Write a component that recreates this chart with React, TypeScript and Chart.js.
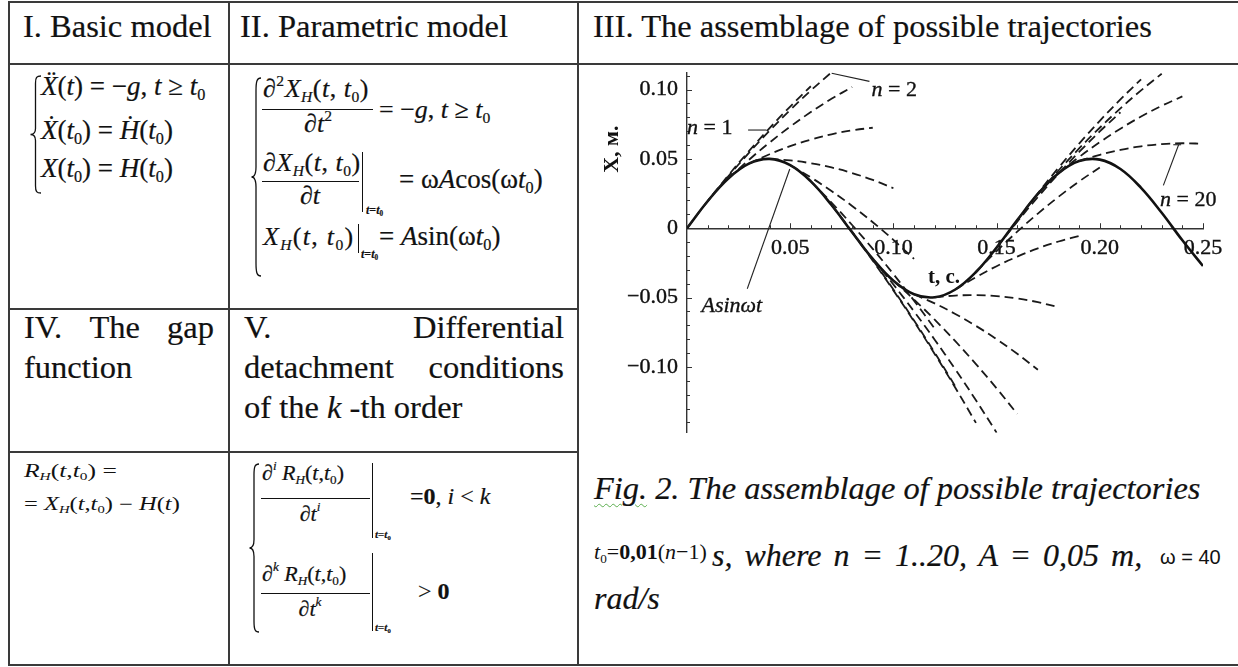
import React, { useEffect, useRef } from 'react';
import { Chart, registerables } from 'chart.js';

Chart.register(...registerables);

const SERIF = '"Liberation Serif", "Times New Roman", serif';
const SANS = '"Liberation Sans", Arial, sans-serif';
const INK = '#111';
const RULE = '#3a3a3a';

// ---------- data ----------
// solid curve A·sin(ωt)
const sinT = [0, 0.01, 0.02, 0.03, 0.04, 0.05, 0.06, 0.07, 0.08, 0.09, 0.1, 0.11, 0.12, 0.13, 0.14, 0.15, 0.16, 0.17, 0.18, 0.19, 0.2, 0.21, 0.22, 0.23, 0.24, 0.25];
const sinX = [0, 0.01947, 0.03587, 0.0466, 0.04998, 0.04546, 0.03377, 0.01675, -0.00292, -0.02213, -0.03784, -0.04758, -0.04981, -0.04417, -0.03156, -0.01397, 0.00583, 0.02471, 0.03968, 0.0484, 0.04947, 0.04273, 0.02912, 0.01114, -0.00872, -0.0272];

// dashed trajectories n = 1..20, each starting at t0 and sampled at t0 + tau
const trajectoryN = [1, 2, 3, 4, 5, 6, 7, 8, 9, 10, 11, 12, 13, 14, 15, 16, 17, 18, 19, 20];
const trajectoryT0 = [0, 0.01, 0.02, 0.03, 0.04, 0.05, 0.06, 0.07, 0.08, 0.09, 0.1, 0.11, 0.12, 0.13, 0.14, 0.15, 0.16, 0.17, 0.18, 0.19];
const trajectoryTau = [0, 0.01, 0.02, 0.03, 0.04, 0.05, 0.06];
const traj01 = [0, 0.01951, 0.03804, 0.05559, 0.07216, 0.08775, 0.10236];
const traj02 = [0.01947, 0.0374, 0.05435, 0.07032, 0.08532, 0.09933, 0.11236];
const traj03 = [0.03587, 0.04931, 0.06178, 0.07326, 0.08377, 0.09329, 0.10184];
const traj04 = [0.0466, 0.05336, 0.05913, 0.06393, 0.06775, 0.07059, 0.07244];
const traj05 = [0.04998, 0.04891, 0.04685, 0.04382, 0.0398, 0.03481, 0.02884];
const traj06 = [0.04546, 0.03665, 0.02685, 0.01608, 0.00433, -0.00841, -0.02212];
const traj07 = [0.03377, 0.01853, 0.00231, -0.01488, -0.03306, -0.05222, -0.07236];
const traj08 = [0.01675, -0.00258, -0.0229, -0.04419, -0.06647, -0.08972, -0.11396];
const traj09 = [-0.00292, -0.02338, -0.04481, -0.06723, -0.09062, -0.115, -0.14036];
const traj10 = [-0.02213, -0.04056, -0.05996, -0.08035, -0.10171, -0.12406, -0.14738];
const traj11 = [-0.03784, -0.0514, -0.06595, -0.08147, -0.09797, -0.11546, -0.13392];
const traj12 = [-0.04758, -0.05422, -0.06183, -0.07043, -0.08001, -0.09056, -0.1021];
const traj13 = [-0.04981, -0.04855, -0.04827, -0.04897, -0.05065, -0.05331, -0.05695];
const traj14 = [-0.04417, -0.03529, -0.02739, -0.02047, -0.01453, -0.00957, -0.00559];
const traj15 = [-0.03156, -0.01654, -0.0025, 0.01056, 0.02265, 0.03375, 0.04387];
const traj16 = [-0.01397, 0.00474, 0.02248, 0.03923, 0.055, 0.0698, 0.08361];
const traj17 = [0.00583, 0.0252, 0.0436, 0.06101, 0.07744, 0.0929, 0.10737];
const traj18 = [0.02471, 0.04161, 0.05753, 0.07246, 0.08642, 0.0994, 0.1114];
const traj19 = [0.03968, 0.05136, 0.06205, 0.07177, 0.08051, 0.08827, 0.09504];
const traj20 = [0.0484, 0.05294, 0.05649, 0.05907, 0.06067, 0.06128, 0.06092];
const trajectories = [traj01, traj02, traj03, traj04, traj05, traj06, traj07, traj08, traj09, traj10, traj11, traj12, traj13, traj14, traj15, traj16, traj17, traj18, traj19, traj20];

const xRange = [0, 0.25];
const yRange = [-0.1475, 0.1125];
const xTicks = [0.05, 0.1, 0.15, 0.2, 0.25];
const xTickLabels = ['0.05', '0.10', '0.15', '0.20', '0.25'];
const yTicks = [-0.1, -0.05, 0, 0.05, 0.1];
const yTickLabels = ['\u22120.10', '\u22120.05', '0', '0.05', '0.10'];

// in-plot annotations (anchored in data coordinates)
const annotations: { parts: [string, boolean][]; x: number; y: number }[] = [
  { parts: [['n', true], [' = 1', false]], x: 0.0, y: 0.0682 },
  { parts: [['n', true], [' = 2', false]], x: 0.0894, y: 0.0956 },
  { parts: [['n', true], [' = 20', false]], x: 0.2292, y: 0.0157 },
  { parts: [['Asin\u03c9t', true]], x: 0.007, y: -0.0604 },
];
const pointers: number[][][] = [
  [[0.0296, 0.0708], [0.0385, 0.0708]],
  [[0.0701, 0.1117], [0.0884, 0.1059]],
  [[0.2308, 0.0309], [0.2382, 0.0602]],
  [[0.2356, 0.0602], [0.2394, 0.0602]],
  [[0.0292, -0.0436], [0.0498, 0.0427]],
];
const xTitle = { text: 't, c.', x: 0.1245, y: -0.0394 };
const yTitle = { text: 'X, \u043c.', y: 0.057 };

const decorPlugin = {
  id: 'decor',
  afterDatasetsDraw(chart: any) {
    const { ctx, chartArea } = chart;
    const xs = chart.scales.x;
    const ys = chart.scales.y;
    const x0 = xs.getPixelForValue(0);
    const y0 = ys.getPixelForValue(0);
    ctx.save();
    // minor / major tick marks on both axes
    ctx.strokeStyle = '#333';
    ctx.lineWidth = 1;
    ctx.beginPath();
    for (let k = 1; k <= 25; k++) {
      const px = Math.round(xs.getPixelForValue(k / 100)) + 0.5;
      const len = k % 5 === 0 ? 5 : 3;
      ctx.moveTo(px, y0);
      ctx.lineTo(px, y0 - len);
    }
    for (let k = -14; k <= 11; k++) {
      if (k === 0) continue;
      const py = Math.round(ys.getPixelForValue(k / 100)) + 0.5;
      const len = k % 5 === 0 ? 5 : 3;
      ctx.moveTo(x0, py);
      ctx.lineTo(x0 + len, py);
    }
    ctx.stroke();
    // pointer lines
    ctx.strokeStyle = '#222';
    ctx.lineWidth = 1.1;
    ctx.setLineDash([]);
    for (const seg of pointers) {
      ctx.beginPath();
      ctx.moveTo(xs.getPixelForValue(seg[0][0]), ys.getPixelForValue(seg[0][1]));
      ctx.lineTo(xs.getPixelForValue(seg[1][0]), ys.getPixelForValue(seg[1][1]));
      ctx.stroke();
    }
    // labels
    ctx.fillStyle = INK;
    ctx.strokeStyle = INK;
    ctx.lineWidth = 0.35;
    ctx.textBaseline = 'alphabetic';
    ctx.textAlign = 'left';
    for (const a of annotations) {
      let cx = xs.getPixelForValue(a.x);
      const cy = ys.getPixelForValue(a.y);
      for (const [txt, it] of a.parts) {
        ctx.font = `${it ? 'italic ' : ''}22px ${SERIF}`;
        ctx.fillText(txt, cx, cy);
        ctx.strokeText(txt, cx, cy);
        cx += ctx.measureText(txt).width;
      }
    }
    // axis titles
    ctx.font = `bold 21px ${SERIF}`;
    ctx.textAlign = 'center';
    ctx.fillText(xTitle.text, xs.getPixelForValue(xTitle.x), ys.getPixelForValue(xTitle.y));
    ctx.translate(chartArea.left - 75, ys.getPixelForValue(yTitle.y));
    ctx.rotate(-Math.PI / 2);
    ctx.textBaseline = 'middle';
    ctx.font = `bold 22px ${SERIF}`;
    ctx.fillText(yTitle.text, 0, 0);
    ctx.restore();
  },
};

function TrajectoryChart() {
  const ref = useRef<HTMLCanvasElement>(null);
  useEffect(() => {
    const canvas = ref.current;
    if (!canvas) return;
    const datasets: any[] = trajectories.map((vals, k) => ({
      label: `n = ${trajectoryN[k]}`,
      data: trajectoryTau.map((d, i) => ({ x: trajectoryT0[k] + d, y: vals[i] })),
      borderColor: '#1a1a1a',
      borderWidth: 1.8,
      borderDash: [9, 5],
      pointRadius: 0,
      tension: 0.4,
      fill: false,
    }));
    datasets.push({
      label: 'Asin\u03c9t',
      data: sinT.map((t, i) => ({ x: t, y: sinX[i] })),
      borderColor: '#111',
      borderWidth: 2.6,
      pointRadius: 0,
      tension: 0.4,
      fill: false,
    });
    const tickFont = { family: SERIF, size: 22 };
    const chart = new Chart(canvas, {
      type: 'line',
      data: { datasets },
      options: {
        animation: false,
        responsive: false,
        events: [],
        layout: { padding: { left: 0, right: 27, top: 19, bottom: 16 } },
        plugins: { legend: { display: false }, tooltip: { enabled: false } },
        scales: {
          x: {
            type: 'linear',
            min: xRange[0],
            max: xRange[1],
            position: { y: 0 } as any,
            grid: { display: false, drawTicks: false },
            border: { display: true, color: '#333', width: 1.4 },
            afterBuildTicks: (s: any) => {
              s.ticks = xTicks.map((v) => ({ value: v }));
            },
            ticks: {
              padding: 7,
              color: INK,
              textStrokeColor: INK,
              textStrokeWidth: 0.4,
              font: tickFont,
              maxRotation: 0,
              autoSkip: false,
              callback: (v: any) => xTickLabels[xTicks.findIndex((t) => Math.abs(t - v) < 1e-9)] ?? '',
            },
          },
          y: {
            type: 'linear',
            min: yRange[0],
            max: yRange[1],
            position: 'left',
            afterFit: (s: any) => {
              s.width = 102;
            },
            grid: { display: false, drawTicks: false },
            border: { display: true, color: '#333', width: 1.4 },
            afterBuildTicks: (s: any) => {
              s.ticks = yTicks.map((v) => ({ value: v }));
            },
            ticks: {
              padding: 9,
              color: INK,
              textStrokeColor: INK,
              textStrokeWidth: 0.4,
              font: tickFont,
              autoSkip: false,
              callback: (v: any) => yTickLabels[yTicks.findIndex((t) => Math.abs(t - v) < 1e-9)] ?? '',
            },
          },
        },
      } as any,
      plugins: [decorPlugin],
    });
    return () => chart.destroy();
  }, []);
  return (
    <canvas
      ref={ref}
      width={645}
      height={405}
      style={{ position: 'absolute', left: 585, top: 50, width: 645, height: 405 }}
    />
  );
}

// ---------- small typesetting helpers ----------
function Txt({ x, y, size, children, style, center }: any) {
  return (
    <div
      style={{
        position: 'absolute',
        left: x,
        top: y - 0.8375 * size,
        fontSize: size,
        lineHeight: `${size}px`,
        whiteSpace: 'pre',
        transform: center ? 'translateX(-50%)' : undefined,
        ...style,
      }}
    >
      {children}
    </div>
  );
}
const It = ({ children }: any) => <span style={{ fontStyle: 'italic' }}>{children}</span>;
const Sub = ({ children }: any) => (
  <span style={{ fontSize: '0.6em', position: 'relative', top: '0.3em', lineHeight: 0 }}>{children}</span>
);
const Sup = ({ children }: any) => (
  <span style={{ fontSize: '0.6em', position: 'relative', top: '-0.75em', lineHeight: 0 }}>{children}</span>
);
function Acc({ children, mark }: any) {
  return (
    <span style={{ position: 'relative', display: 'inline-block' }}>
      {children}
      <span style={{ position: 'absolute', left: '0.22em', top: '-0.2em', fontStyle: 'normal' }}>{mark}</span>
    </span>
  );
}
function HRule({ x, y, w, h = 1.3, color = INK }: any) {
  return <div style={{ position: 'absolute', left: x, top: y, width: w, height: h, background: color }} />;
}
function VRule({ x, y1, y2, w = 1.3, color = INK }: any) {
  return <div style={{ position: 'absolute', left: x, top: y1, width: w, height: y2 - y1, background: color }} />;
}
function Brace({ x, y1, y2, w = 10 }: any) {
  const h = y2 - y1;
  const m = h / 2;
  const c = w * 0.5;
  const d = `M ${w} 1 C ${w * 0.6} 1 ${c} ${h * 0.02} ${c} ${h * 0.07} L ${c} ${m - h * 0.05} C ${c} ${m - h * 0.01} ${w * 0.25} ${m} 0.5 ${m} C ${w * 0.25} ${m} ${c} ${m + h * 0.01} ${c} ${m + h * 0.05} L ${c} ${h - h * 0.07} C ${c} ${h - h * 0.02} ${w * 0.6} ${h - 1} ${w} ${h - 1}`;
  return (
    <svg style={{ position: 'absolute', left: x, top: y1 }} width={w + 1} height={h + 1}>
      <path d={d} fill="none" stroke={INK} strokeWidth={1.3} />
    </svg>
  );
}
function Spread({ x1, x2, y, size, words }: any) {
  return (
    <div
      style={{
        position: 'absolute',
        left: x1,
        width: x2 - x1,
        top: y - 0.8375 * size,
        fontSize: size,
        lineHeight: `${size}px`,
        display: 'flex',
        justifyContent: 'space-between',
        whiteSpace: 'pre',
      }}
    >
      {words.map((w: string, i: number) => (
        <span key={i}>{w}</span>
      ))}
    </div>
  );
}

const WIDE = { letterSpacing: '0.5px' };
const TINY = { fontWeight: 'bold' as const };
const THIN = { WebkitTextStroke: '0px' };

export default function App() {
  return (
    <div
      style={{
        position: 'absolute',
        left: 0,
        top: 0,
        width: 1238,
        height: 667,
        overflow: 'hidden',
        background: '#fff',
        fontFamily: SERIF,
        color: INK,
        WebkitTextStroke: '0.2px #111',
      }}
    >
      {/* table rules */}
      <HRule x={8} y={1} w={1230} h={2} color={RULE} />
      <HRule x={8} y={63} w={1230} h={2} color={RULE} />
      <HRule x={8} y={308} w={571} h={2} color={RULE} />
      <HRule x={8} y={451} w={571} h={2} color={RULE} />
      <HRule x={8} y={664} w={1230} h={2} color={RULE} />
      <VRule x={8} y1={1} y2={666} w={2} color={RULE} />
      <VRule x={228} y1={1} y2={666} w={2} color={RULE} />
      <VRule x={577} y1={1} y2={666} w={2} color={RULE} />

      {/* header row */}
      <Txt x={23} y={37} size={32.5}>I. Basic model</Txt>
      <Txt x={240} y={37} size={32.5}>II. Parametric model</Txt>
      <Txt x={593} y={37} size={32.5}>III. The assemblage of possible trajectories</Txt>

      {/* I. basic model */}
      <Brace x={30} y1={75} y2={194} w={11} />
      <Txt x={41} y={96} size={27}>
        <It><Acc mark={'\u00a8'}>X</Acc></It>(<It>t</It>) = −<It>g</It>, <It>t</It> ≥ <It>t</It><Sub>0</Sub>
      </Txt>
      <Txt x={41} y={140} size={27}>
        <It><Acc mark={'\u02d9'}>X</Acc></It>(<It>t</It><Sub>0</Sub>) = <It><Acc mark={'\u02d9'}>H</Acc></It>(<It>t</It><Sub>0</Sub>)
      </Txt>
      <Txt x={41} y={178} size={27}>
        <It>X</It>(<It>t</It><Sub>0</Sub>) = <It>H</It>(<It>t</It><Sub>0</Sub>)
      </Txt>

      {/* II. parametric model */}
      <Brace x={251} y1={77} y2={277} w={10} />
      <Txt x={263} y={98} size={26} style={WIDE}>
        ∂<Sup>2</Sup><It>X</It><Sub><It>H</It></Sub>(<It>t</It>, <It>t</It><Sub>0</Sub>)
      </Txt>
      <HRule x={262} y={109} w={111} />
      <Txt x={318} y={133} size={26} center>
        ∂<It>t</It><Sup>2</Sup>
      </Txt>
      <Txt x={379} y={119} size={26}>
        = −<It>g</It>, <It>t</It> ≥ <It>t</It><Sub>0</Sub>
      </Txt>

      <Txt x={263} y={172} size={26} style={WIDE}>
        ∂<It>X</It><Sub><It>H</It></Sub>(<It>t</It>, <It>t</It><Sub>0</Sub>)
      </Txt>
      <HRule x={262} y={181} w={97} />
      <Txt x={310} y={205} size={26} center>
        ∂<It>t</It>
      </Txt>
      <VRule x={362} y1={152} y2={212} />
      <Txt x={366} y={214} size={12} style={TINY}>
        <It>t</It>=<It>t</It><Sub>0</Sub>
      </Txt>
      <Txt x={399} y={189} size={27}>
        = ω<It>A</It>cos(ω<It>t</It><Sub>0</Sub>)
      </Txt>

      <Txt x={263} y={246} size={26} style={{ letterSpacing: '1.3px' }}>
        <It>X</It><Sub><It>H</It></Sub>(<It>t</It>, <It>t</It><Sub>0</Sub>)
      </Txt>
      <VRule x={358} y1={224} y2={253} />
      <Txt x={361} y={258} size={12} style={TINY}>
        <It>t</It>=<It>t</It><Sub>0</Sub>
      </Txt>
      <Txt x={379} y={246} size={27}>
        = <It>A</It>sin(ω<It>t</It><Sub>0</Sub>)
      </Txt>

      {/* row 3 headings */}
      <Spread x1={24} x2={214} y={338} size={32.5} words={['IV.', 'The', 'gap']} />
      <Txt x={24} y={378} size={32.5}>function</Txt>
      <Spread x1={244} x2={564} y={338} size={32.5} words={['V.', 'Differential']} />
      <Spread x1={244} x2={564} y={378} size={32.5} words={['detachment', 'conditions']} />
      <Txt x={244} y={418} size={32.5}>
        of the <It>k</It> -th order
      </Txt>

      {/* IV. gap function */}
      <Txt x={24} y={477} size={18} style={{ ...THIN, transform: 'scaleX(1.42)', transformOrigin: '0 0' }}>
        <It>R</It><Sub><It>H</It></Sub>(<It>t</It>,<It>t</It><Sub>0</Sub>) =
      </Txt>
      <Txt x={24} y={510} size={18} style={{ ...THIN, transform: 'scaleX(1.36)', transformOrigin: '0 0' }}>
        = <It>X</It><Sub><It>H</It></Sub>(<It>t</It>,<It>t</It><Sub>0</Sub>) − <It>H</It>(<It>t</It>)
      </Txt>

      {/* V. detachment conditions */}
      <Brace x={249} y1={463} y2={633} w={10} />
      <Txt x={262} y={480} size={22}>
        ∂<Sup><It>i</It></Sup> <It>R</It><Sub><It>H</It></Sub>(<It>t</It>,<It>t</It><Sub>0</Sub>)
      </Txt>
      <HRule x={261} y={498} w={109} />
      <Txt x={310} y={521} size={22} center>
        ∂<It>t</It><Sup><It>i</It></Sup>
      </Txt>
      <VRule x={372} y1={463} y2={538} />
      <Txt x={375} y={538} size={11} style={TINY}>
        <It>t</It>=<It>t</It><Sub>0</Sub>
      </Txt>
      <Txt x={410} y={504} size={24}>
        =<b>0</b>, <It>i</It> &lt; <It>k</It>
      </Txt>
      <Txt x={262} y={581} size={22}>
        ∂<Sup><It>k</It></Sup> <It>R</It><Sub><It>H</It></Sub>(<It>t</It>,<It>t</It><Sub>0</Sub>)
      </Txt>
      <HRule x={261} y={593} w={109} />
      <Txt x={310} y={616} size={22} center>
        ∂<It>t</It><Sup><It>k</It></Sup>
      </Txt>
      <VRule x={372} y1={553} y2={631} />
      <Txt x={375} y={631} size={11} style={TINY}>
        <It>t</It>=<It>t</It><Sub>0</Sub>
      </Txt>
      <Txt x={418} y={599} size={24}>
        &gt; <b>0</b>
      </Txt>

      {/* III. chart */}
      <TrajectoryChart />

      {/* caption */}
      <Txt x={594} y={499} size={32.4} style={{ fontStyle: 'italic' }}>
        <span
          style={{
            textDecorationLine: 'underline',
            textDecorationStyle: 'wavy',
            textDecorationColor: '#5cae4f',
            textDecorationThickness: '1px',
            textUnderlineOffset: '4px',
          }}
        >
          Fig.
        </span>
        <span> 2. The assemblage of possible trajectories</span>
      </Txt>
      <Txt x={594} y={559} size={22} style={THIN}>
        <It>t</It><Sub>0</Sub>=<b>0,01</b>(<It>n</It>−1)
      </Txt>
      <Txt x={712} y={566} size={32} style={{ fontStyle: 'italic', wordSpacing: '4px' }}>
        s, where n = 1..20, A = 0,05 m,
      </Txt>
      <Txt x={1160} y={564} size={20} style={{ fontFamily: SANS, ...THIN }}>
        ω = 40
      </Txt>
      <Txt x={594} y={609} size={32} style={{ fontStyle: 'italic' }}>
        rad/s
      </Txt>
    </div>
  );
}
